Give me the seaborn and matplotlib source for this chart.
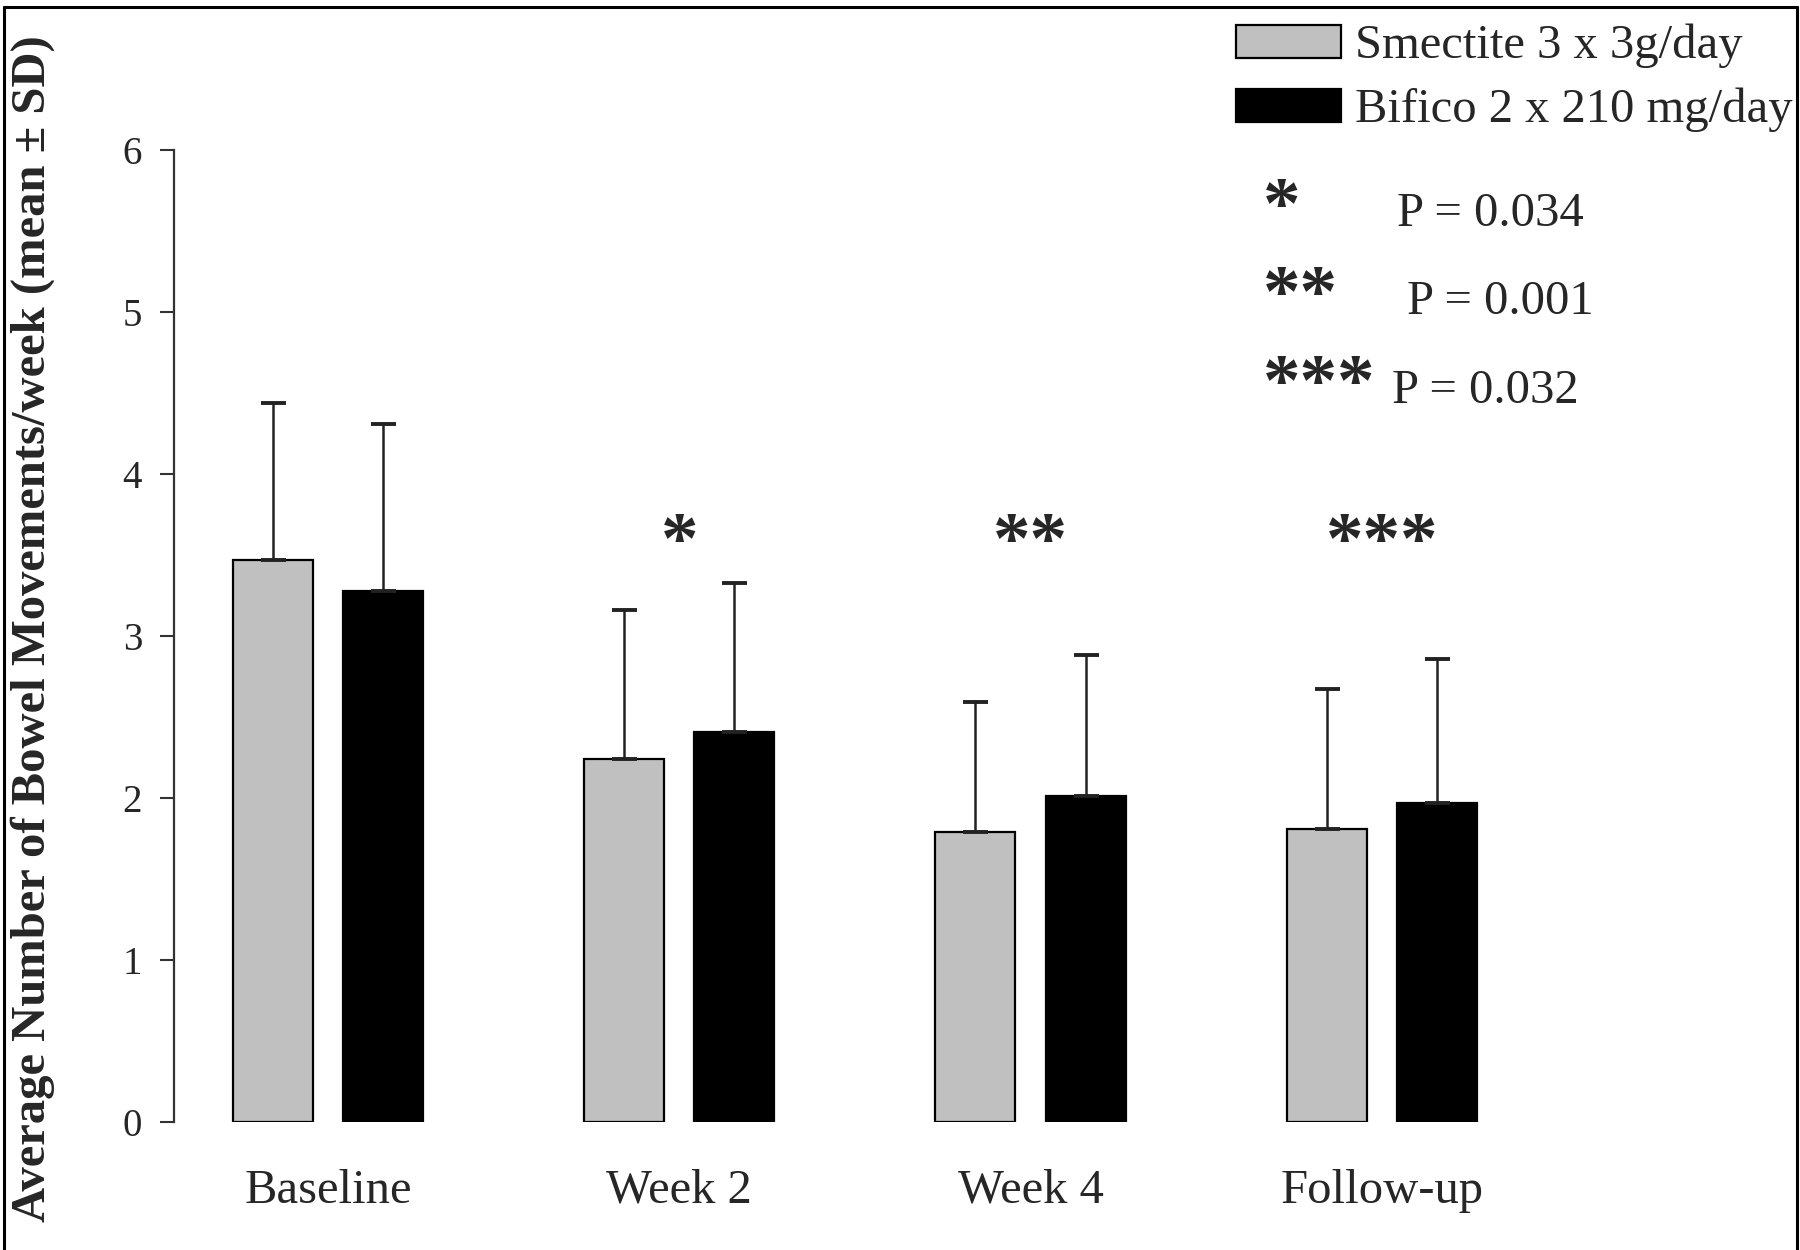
import matplotlib
matplotlib.use("Agg")
import matplotlib.pyplot as plt
from matplotlib.lines import Line2D
import pandas as pd
import seaborn as sns

# values
periods = ["Baseline", "Week 2", "Week 4", "Follow-up"]
treatments = ["Smectite 3 x 3g/day", "Bifico 2 x 210 mg/day"]
smectite_mean = [3.47, 2.24, 1.79, 1.81]
smectite_sd = [0.97, 0.92, 0.80, 0.86]
bifico_mean = [3.28, 2.41, 2.01, 1.97]
bifico_sd = [1.03, 0.92, 0.87, 0.89]
star_labels = ["", "*", "**", "***"]
p_labels = ["P = 0.034", "P = 0.001", "P = 0.032"]
y_ticks = [0, 1, 2, 3, 4, 5, 6]

sns.set_style("white")
plt.rcParams["font.family"] = ["Liberation Serif", "DejaVu Serif"]

data = pd.DataFrame({
    "period": periods * 2,
    "treatment": [treatments[0]] * 4 + [treatments[1]] * 4,
    "mean": smectite_mean + bifico_mean,
})
sds = [smectite_sd, bifico_sd]

W, H = 1800, 1250
fig = plt.figure(figsize=(18, 12.5), dpi=100)
ax = fig.add_axes([174 / W, 1 - 1121.6 / H, (1750 - 174) / W, (1121.6 - 150.4) / H])

sns.barplot(data=data, x="period", y="mean", hue="treatment",
            palette=["#c0c0c0", "black"], width=0.628, gap=0.274,
            edgecolor="black", linewidth=1.6, errorbar=None, ax=ax)

# upper-only SD bars on top of each bar
for cont, sd in zip(ax.containers, sds):
    xs = [b.get_x() + b.get_width() / 2 for b in cont]
    ys = [b.get_height() for b in cont]
    ax.errorbar(xs, ys, yerr=[[0] * len(sd), sd], fmt="none", ecolor="#222222",
                elinewidth=1.8, capsize=9, capthick=2.8, zorder=1)

# significance stars above the groups
for i, s in enumerate(star_labels):
    if s:
        ax.text(i, 3.45, s, ha="center", va="baseline", fontsize=54,
                fontweight="bold")

ax.set_ylim(0, 6)
ax.set_xlim(-0.438, 4.048)
ax.set_yticks(y_ticks)
ax.set_xlabel("")
ax.set_ylabel("")
for side in ["top", "right", "bottom"]:
    ax.spines[side].set_visible(False)
ax.spines["left"].set_color("#333333")
ax.spines["left"].set_linewidth(1.6)
ax.tick_params(axis="y", direction="out", length=10, width=1.5, color="#333333",
               labelsize=28, pad=13, left=True)
ax.tick_params(axis="x", length=0, labelsize=35, pad=34)

fig.text(0.018, 0.497, "Average Number of Bowel Movements/week (mean \u00b1 SD)",
         rotation=90, ha="center", va="center", fontsize=35, fontweight="bold")

handles, labels = ax.get_legend_handles_labels()
ax.legend(handles, labels, loc="upper left", bbox_to_anchor=(1236 / W, 1 - 24 / H),
          bbox_transform=fig.transFigure, frameon=False, fontsize=35,
          handlelength=2.16, handleheight=0.66, handletextpad=0.29,
          labelspacing=0.4, borderpad=0, borderaxespad=0)

# p-value key
star_x = 1263
p_x = [1397, 1407, 1392]
star_base = [228, 316, 405]
p_base = [226, 314, 403]
for k, s in enumerate(star_labels[1:]):
    fig.text(star_x / W, 1 - star_base[k] / H, s, ha="left", va="baseline",
             fontsize=54, fontweight="bold")
    fig.text(p_x[k] / W, 1 - p_base[k] / H, p_labels[k], ha="left", va="baseline",
             fontsize=35)

# frame round the picture (left, top, right)
for xs_, ys_ in [([4 / W, 4 / W], [0, 1 - 7 / H]),
                 ([4 / W, 1797 / W], [1 - 7 / H, 1 - 7 / H]),
                 ([1797 / W, 1797 / W], [0, 1 - 7 / H])]:
    fig.add_artist(Line2D(xs_, ys_, color="black", linewidth=2.2))

fig.savefig("out.png", dpi=100, facecolor="white")
